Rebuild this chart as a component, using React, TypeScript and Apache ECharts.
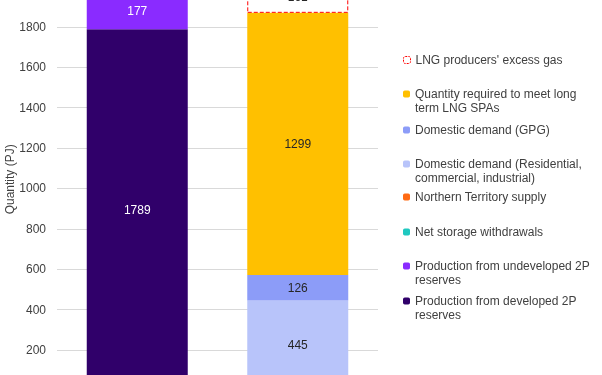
import React, { useEffect, useRef } from "react";
import * as echarts from "echarts";

const categories = ["Supply", "Demand"];
const developed2P = [1789, 0];
const undeveloped2P = [177, 0];
const storage = [0, 0];
const ntSupply = [0, 0];
const residential = [0, 445];
const gpg = [0, 126];
const lngSpas = [0, 1299];
const excessGas = [0, 161];

const names = {
  excess: "LNG producers' excess gas",
  spas: "Quantity required to meet long\nterm LNG SPAs",
  gpg: "Domestic demand (GPG)",
  res: "Domestic demand (Residential,\ncommercial, industrial)",
  nt: "Northern Territory supply",
  storage: "Net storage withdrawals",
  undev: "Production from undeveloped 2P\nreserves",
  dev: "Production from developed 2P\nreserves",
};

const FONT = "'Liberation Sans', Arial, sans-serif";

export default function App() {
  const ref = useRef<HTMLDivElement>(null);
  useEffect(() => {
    if (!ref.current) return;
    const chart = echarts.init(ref.current, undefined, { renderer: "svg" });
    const mk = (name: string, data: number[], color: string, labelColor: string, extra: any = {}) => ({
      name,
      type: "bar",
      stack: "total",
      barWidth: 101,
      data,
      itemStyle: { color, ...(extra.itemStyle || {}) },
      label: {
        show: true,
        position: "inside",
        color: labelColor,
        fontSize: 12,
        fontFamily: FONT,
        formatter: (p: any) => (p.value ? String(p.value) : ""),
      },
      emphasis: { disabled: true },
    });
    const OFF = 80;
    const legendItem = (name: string, centerY: number, twoLine: boolean, itemStyle?: any) => ({
      data: [itemStyle ? { name, itemStyle } : name],
      left: 398,
      top: twoLine ? centerY + OFF - 26 : centerY + OFF - 12,
      orient: "vertical",
      itemWidth: 7,
      itemHeight: 7,
      itemGap: 0,
      selectedMode: false,
      formatter: (n: string) => (n.includes("\n") ? " \n" + n : n),
      textStyle: {
        fontSize: 12,
        fontFamily: FONT,
        color: "#404040",
        lineHeight: 14,
      },
    });
    chart.setOption({
      animation: false,
      textStyle: { fontFamily: FONT },
      grid: {
        left: 57,
        right: 224,
        top: 26.2,
        bottom: 39.6,
        containLabel: false,
        outerBoundsMode: "none",
      },
      legend: [
        legendItem(names.excess, 60, false, {
          color: "#ffffff",
          borderColor: "#FF0000",
          borderWidth: 1,
          borderType: [2, 1],
        }),
        legendItem(names.spas, 94, true),
        legendItem(names.gpg, 130, false),
        legendItem(names.res, 164, true),
        legendItem(names.nt, 197, false),
        legendItem(names.storage, 232, false),
        legendItem(names.undev, 266, true),
        legendItem(names.dev, 301, true),
      ],
      xAxis: {
        type: "category",
        data: categories,
        axisLine: { lineStyle: { color: "#d9d9d9" } },
        axisTick: { show: false },
        axisLabel: { color: "#404040", fontSize: 12 },
      },
      yAxis: {
        type: "value",
        min: 0,
        max: 2200,
        interval: 200,
        name: "Quantity (PJ)",
        nameLocation: "middle",
        nameGap: 41,
        nameMoveOverlap: false,
        nameTextStyle: { color: "#404040", fontSize: 12, fontFamily: FONT, padding: [0, 22, 0, 0] },
        axisLine: { show: false },
        axisTick: { show: false },
        axisLabel: {
          color: "#404040",
          fontSize: 12,
          margin: 11,
          fontFamily: FONT,
          formatter: (v: number) => String(v),
        },
        splitLine: { lineStyle: { color: "#d9d9d9", width: 1 } },
      },
      series: [
        mk(names.dev, developed2P, "#30006A", "#ffffff"),
        mk(names.undev, undeveloped2P, "#8A2BFF", "#ffffff"),
        mk(names.storage, storage, "#1FC8C0", "#ffffff"),
        mk(names.nt, ntSupply, "#FF6A13", "#ffffff"),
        mk(names.res, residential, "#B8C4FA", "#262626"),
        mk(names.gpg, gpg, "#8C9CF8", "#262626"),
        mk(names.spas, lngSpas, "#FFC000", "#262626"),
        mk(names.excess, excessGas, "#ffffff", "#262626", {
          itemStyle: { borderColor: "#FF0000", borderType: "dashed", borderWidth: 1 },
        }),
      ],
    });
    return () => chart.dispose();
  }, []);
  return (
    <div
      ref={ref}
      style={{ position: "fixed", left: 0, top: -80, width: 602, height: 510 }}
    />
  );
}
